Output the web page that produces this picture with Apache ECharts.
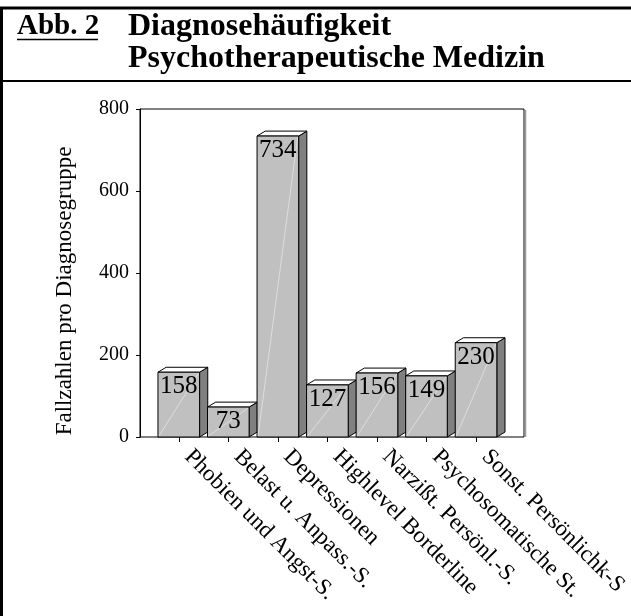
<!DOCTYPE html>
<html>
<head>
<meta charset="utf-8">
<script src="https://cdn.jsdelivr.net/npm/echarts@6/dist/echarts.min.js"></script>
<style>
html,body{margin:0;padding:0;background:#fff;}
#chart{width:631px;height:616px;}
</style>
</head>
<body>
<div id="chart"></div>
<script>
const categories = ['Phobien und Angst-S.', 'Belast u. Anpass.-S.', 'Depressionen', 'Highlevel Borderline', 'Narzißt. Persönl.-S.', 'Psychosomatische St.', 'Sonst. Persönlichk-S'];
const values = [158, 73, 734, 127, 156, 149, 230];
const yTicks = [0, 200, 400, 600, 800];
const yAxisTitle = 'Fallzahlen pro Diagnosegruppe';
const titleLabel = 'Abb. 2';
const titleLines = ['Diagnosehäufigkeit', 'Psychotherapeutische Medizin'];

const FONT = '"Liberation Serif", "Times New Roman", serif';

function renderItem(params, api) {
  const i = api.value(0), v = api.value(1);
  const base = api.coord([i, 0]);
  const top = api.coord([i, v]);
  const band = api.size([1, 0])[0];
  const w = band * 0.84;
  const dx = band * 0.165, dy = band * 0.1;
  const x0 = base[0] - w / 2, x1 = base[0] + w / 2;
  const yb = base[1], yt = top[1];
  return {
    type: 'group',
    children: [
      {type: 'polygon', shape: {points: [[x1, yt], [x1 + dx, yt - dy], [x1 + dx, yb - dy], [x1, yb]]},
        style: {fill: '#808080', stroke: '#000', lineWidth: 1}},
      {type: 'polygon', shape: {points: [[x0, yt], [x0 + dx, yt - dy], [x1 + dx, yt - dy], [x1, yt]]},
        style: {fill: '#ffffff', stroke: '#000', lineWidth: 1}},
      {type: 'rect', shape: {x: x0, y: yt, width: w, height: yb - yt},
        style: {fill: '#c0c0c0', stroke: '#000', lineWidth: 1}},
      {type: 'line', shape: {x1: x0 + 1, y1: yb - 1, x2: x1 - 1, y2: yt + 1},
        style: {stroke: 'rgba(255,255,255,0.45)', lineWidth: 1}},
      {type: 'text', style: {text: String(v), x: base[0], y: yt + 2, align: 'center', verticalAlign: 'top',
        font: '25px ' + FONT, fill: '#000'}}
    ]
  };
}

const chart = echarts.init(document.getElementById('chart'), null, {renderer: 'canvas'});
chart.setOption({
  backgroundColor: '#fff',
  animation: false,
  textStyle: {fontFamily: FONT, color: '#000'},
  grid: [
    {left: 154, right: 130, top: 109, bottom: 179, containLabel: false},
    {left: 140, right: 107, top: 109, bottom: 179, show: true, borderColor: '#000', borderWidth: 1, backgroundColor: 'transparent', z: 0}
  ],
  xAxis: [
    {
      type: 'category', gridIndex: 0, data: categories,
      axisLine: {show: false},
      axisTick: {show: true, alignWithLabel: true, length: 5, lineStyle: {color: '#000', width: 1}},
      axisLabel: {rotate: -45, interval: 0, margin: 7, padding: [0, 0, 0, 13], fontSize: 23, fontFamily: FONT, color: '#000'},
      splitLine: {show: false}
    },
    {type: 'value', gridIndex: 1, show: false}
  ],
  yAxis: [
    {
      type: 'value', gridIndex: 0, min: yTicks[0], max: yTicks[yTicks.length - 1], interval: yTicks[1] - yTicks[0],
      offset: 14,
      axisLine: {show: true, lineStyle: {color: '#000', width: 1}},
      axisTick: {show: true, length: 4, lineStyle: {color: '#000'}},
      axisLabel: {margin: 11, fontSize: 20, fontFamily: FONT, color: '#000'},
      splitLine: {show: false},
      name: yAxisTitle, nameLocation: 'middle', nameGap: 64,
      nameTextStyle: {fontSize: 23, fontFamily: FONT, color: '#000', padding: [0, 36, 0, 0]}
    },
    {type: 'value', gridIndex: 1, show: false}
  ],
  series: [{
    type: 'custom', xAxisIndex: 0, yAxisIndex: 0, z: 3,
    renderItem: renderItem,
    data: values.map((v, i) => [i, v]),
    encode: {x: 0, y: 1}
  }],
  graphic: [
    {type: 'line', shape: {x1: 1.5, y1: 7, x2: 1.5, y2: 616}, style: {stroke: '#000', lineWidth: 3}},
    {type: 'line', shape: {x1: 0, y1: 8, x2: 631, y2: 8}, style: {stroke: '#000', lineWidth: 3}},
    {type: 'line', shape: {x1: 0, y1: 81, x2: 631, y2: 81}, style: {stroke: '#000', lineWidth: 2}},
    {type: 'line', shape: {x1: 525.5, y1: 110, x2: 525.5, y2: 437}, style: {stroke: '#999', lineWidth: 1.5}},
    {type: 'text', x: 17, y: 27, style: {text: titleLabel, font: 'bold 29px ' + FONT, fill: '#000', verticalAlign: 'middle'}},
    {type: 'line', shape: {x1: 17, y1: 39.5, x2: 98, y2: 39.5}, style: {stroke: '#000', lineWidth: 1.5}},
    {type: 'text', x: 128, y: 27, style: {text: titleLines[0], font: 'bold 32px ' + FONT, fill: '#000', verticalAlign: 'middle'}},
    {type: 'text', x: 128, y: 59, style: {text: titleLines[1], font: 'bold 32px ' + FONT, fill: '#000', verticalAlign: 'middle'}}
  ]
});
</script>
</body>
</html>
